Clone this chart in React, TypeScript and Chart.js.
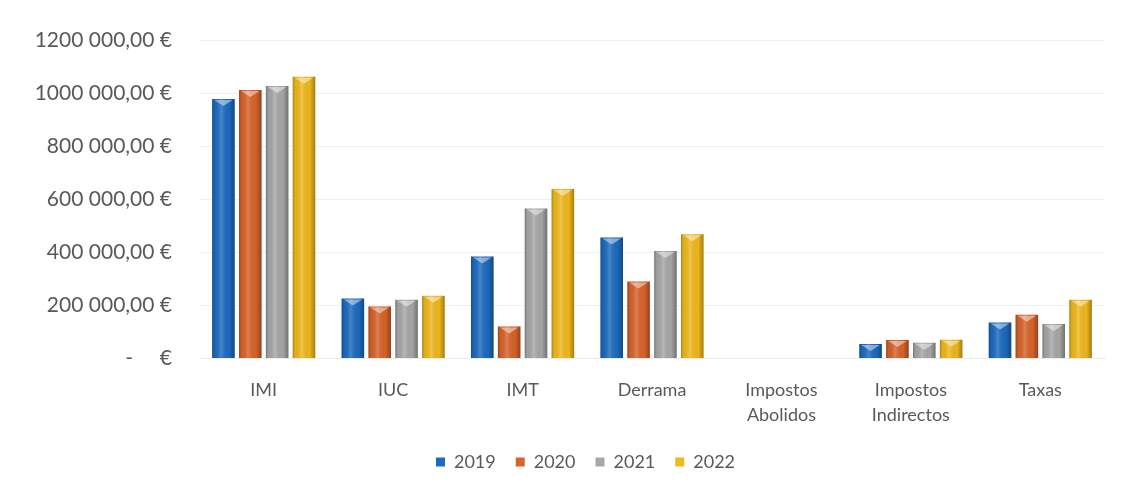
import React, { useEffect, useRef } from "react";
import { Chart, registerables } from "chart.js";

Chart.register(...registerables);

const categories: (string | string[])[] = [
  "IMI",
  "IUC",
  "IMT",
  "Derrama",
  ["Impostos", "Abolidos"],
  ["Impostos", "Indirectos"],
  "Taxas",
];

const seriesNames = ["2019", "2020", "2021", "2022"];
const values2019 = [978000, 226000, 384000, 456000, 0, 55000, 136000];
const values2020 = [1012000, 196000, 121000, 290000, 0, 70000, 165000];
const values2021 = [1027000, 221000, 565000, 405000, 0, 59000, 130000];
const values2022 = [1062000, 236000, 639000, 468000, 0, 71000, 221000];
const seriesColors = ["#1C6BC0", "#D9632A", "#A8A8A8", "#F0B91C"];

const yTickValues = [0, 200000, 400000, 600000, 800000, 1000000, 1200000];
const yTickLabels = [
  "-     €",
  "200 000,00 €",
  "400 000,00 €",
  "600 000,00 €",
  "800 000,00 €",
  "1000 000,00 €",
  "1200 000,00 €",
];

const barShade = {
  id: "barShade",
  afterDatasetsDraw(chart: any) {
    const ctx = chart.ctx;
    chart.data.datasets.forEach((_ds: any, di: number) => {
      const meta = chart.getDatasetMeta(di);
      meta.data.forEach((bar: any) => {
        const { x, y, base, width } = bar.getProps(["x", "y", "base", "width"], true);
        const h = base - y;
        if (h < 1) return;
        const l = x - width / 2;
        const r = x + width / 2;
        const g = ctx.createLinearGradient(l, 0, r, 0);
        g.addColorStop(0, "rgba(0,0,0,0.28)");
        g.addColorStop(0.12, "rgba(0,0,0,0.05)");
        g.addColorStop(0.4, "rgba(255,255,255,0.18)");
        g.addColorStop(0.75, "rgba(0,0,0,0.02)");
        g.addColorStop(1, "rgba(0,0,0,0.32)");
        ctx.save();
        ctx.fillStyle = g;
        ctx.fillRect(l, y, width, h);
        const cap = Math.min(7, h);
        ctx.beginPath();
        ctx.moveTo(l + 2, y + 1);
        ctx.lineTo(r - 2, y + 1);
        ctx.lineTo(x, y + cap);
        ctx.closePath();
        ctx.fillStyle = "rgba(255,255,255,0.45)";
        ctx.fill();
        ctx.restore();
      });
    });
  },
};

const legendShift = {
  id: "legendShift",
  afterLayout(chart: any) {
    if (chart.legend) chart.legend.left += 66;
  },
};

export default function App() {
  const ref = useRef<HTMLCanvasElement | null>(null);
  useEffect(() => {
    if (!ref.current) return;
    const all = [values2019, values2020, values2021, values2022];
    const chart = new Chart(ref.current, {
      type: "bar",
      data: {
        labels: categories,
        datasets: seriesNames.map((name, i) => ({
          label: name,
          data: all[i],
          backgroundColor: seriesColors[i],
          borderWidth: 0,
          categoryPercentage: 0.83,
          barPercentage: 0.84,
        })),
      },
      options: {
        animation: false,
        responsive: true,
        maintainAspectRatio: false,
        layout: { padding: { top: 40, right: 34, bottom: 11, left: 0 } },
        scales: {
          x: {
            grid: { display: false },
            border: { display: true, color: "#ececec" },
            ticks: {
              color: "#595959",
              font: { family: "Lato", size: 18, lineHeight: 1.4 },
              padding: 11,
              maxRotation: 0,
              autoSkip: false,
            },
            afterFit: (s: any) => {
              s.height = 74.5;
            },
          },
          y: {
            min: 0,
            max: 1200000,
            afterBuildTicks: (s: any) => {
              s.ticks = yTickValues.map((v) => ({ value: v }));
            },
            grid: { color: "#efefef", drawTicks: false },
            border: { display: false },
            ticks: {
              color: "#595959",
              font: { family: "Lato", size: 21 },
              padding: 27,
              callback: (v: any) => yTickLabels[yTickValues.indexOf(Number(v))] ?? "",
            },
            afterFit: (s: any) => {
              s.width = 199;
            },
          },
        },
        plugins: {
          legend: {
            position: "bottom",
            labels: {
              color: "#595959",
              font: { family: "Lato", size: 18 },
              boxWidth: 9,
              boxHeight: 9,
              padding: 20,
            },
          },
          tooltip: { enabled: false },
        },
      },
      plugins: [barShade, legendShift],
    });
    return () => chart.destroy();
  }, []);
  return (
    <div style={{ position: "absolute", left: 0, top: 0, width: 1139, height: 492, background: "#fff" }}>
      <canvas ref={ref} />
    </div>
  );
}
